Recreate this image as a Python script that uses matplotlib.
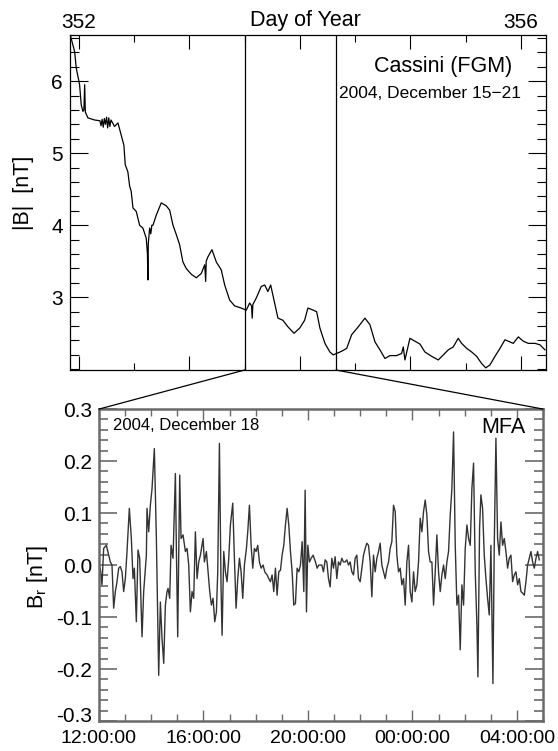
import numpy as np
import matplotlib
matplotlib.use("Agg")
import matplotlib.pyplot as plt
import matplotlib.transforms as mtransforms
from matplotlib.patches import ConnectionPatch
from matplotlib.ticker import MultipleLocator, FixedLocator, FormatStrFormatter

plt.rcParams['font.family'] = ['Liberation Sans', 'DejaVu Sans']
plt.rcParams['mathtext.fontset'] = 'custom'
plt.rcParams['mathtext.rm'] = 'Liberation Sans'
plt.rcParams['axes.unicode_minus'] = False

# |B| overview, Cassini FGM, day of year 2004
doy = [351.925, 351.961, 351.976, 352.006, 352.021, 352.036, 352.045, 352.052, 352.058,
       352.081, 352.142, 352.190, 352.200, 352.210, 352.220, 352.230, 352.240, 352.250,
       352.260, 352.270, 352.280, 352.290, 352.323, 352.353, 352.383, 352.407, 352.419,
       352.443, 352.459, 352.473, 352.489, 352.519, 352.549, 352.579, 352.609, 352.620,
       352.624, 352.628, 352.640, 352.650, 352.660, 352.670, 352.700, 352.745, 352.790,
       352.821, 352.851, 352.881, 352.911, 352.941, 352.971, 353.016, 353.062, 353.107,
       353.138, 353.147, 353.152, 353.167, 353.204, 353.243, 353.288, 353.319, 353.364,
       353.409, 353.469, 353.514, 353.545, 353.562, 353.568, 353.574, 353.605, 353.650,
       353.681, 353.710, 353.735, 353.801, 353.846, 353.891, 353.946, 353.997, 354.042,
       354.072, 354.106, 354.151, 354.181, 354.226, 354.271, 354.301, 354.332, 354.377,
       354.423, 354.468, 354.528, 354.588, 354.633, 354.679, 354.724, 354.769, 354.814,
       354.875, 354.920, 354.935, 354.950, 354.995, 355.041, 355.086, 355.131, 355.192,
       355.252, 355.297, 355.342, 355.387, 355.432, 355.463, 355.509, 355.554, 355.599,
       355.644, 355.681, 355.719, 355.765, 355.810, 355.855, 355.900, 355.930, 355.976,
       356.021, 356.066, 356.127, 356.172, 356.217]
bmag = [6.62, 6.41, 6.18, 5.95, 5.67, 5.58, 5.60, 5.95, 5.57,
        5.49, 5.46, 5.45, 5.38, 5.47, 5.36, 5.48, 5.40, 5.50,
        5.35, 5.49, 5.37, 5.46, 5.37, 5.42, 5.25, 5.11, 4.84,
        4.74, 4.54, 4.47, 4.24, 4.19, 4.00, 3.96, 3.82, 3.60,
        3.24, 3.75, 3.96, 3.88, 4.00, 4.00, 4.14, 4.31, 4.27,
        4.21, 4.00, 3.87, 3.73, 3.49, 3.40, 3.32, 3.27, 3.33,
        3.45, 3.22, 3.50, 3.56, 3.66, 3.49, 3.38, 3.17, 2.96,
        2.88, 2.85, 2.82, 2.92, 2.88, 2.71, 2.90, 2.99, 3.15,
        3.17, 3.08, 3.17, 2.71, 2.68, 2.59, 2.50, 2.57, 2.68,
        2.85, 2.83, 2.80, 2.57, 2.36, 2.24, 2.20, 2.22, 2.25,
        2.29, 2.48, 2.59, 2.71, 2.62, 2.38, 2.27, 2.15, 2.19,
        2.19, 2.22, 2.31, 2.13, 2.43, 2.39, 2.35, 2.24, 2.18,
        2.13, 2.20, 2.27, 2.31, 2.43, 2.36, 2.29, 2.24, 2.18,
        2.08, 2.02, 2.06, 2.18, 2.29, 2.41, 2.38, 2.36, 2.45,
        2.39, 2.36, 2.36, 2.34, 2.27]
window = [353.5, 354.326]

# B_r (MFA), hours after 2004-12-18 12:00
hrs = [0.051, 0.115, 0.179, 0.281, 0.370, 0.434, 0.498, 0.562, 0.626, 0.690, 0.754, 0.817,
       0.881, 0.945, 1.009, 1.073, 1.162, 1.239, 1.303, 1.354, 1.430, 1.494, 1.558, 1.648,
       1.711, 1.814, 1.839, 1.903, 1.967, 2.031, 2.120, 2.197, 2.286, 2.350, 2.414, 2.478,
       2.542, 2.605, 2.644, 2.708, 2.759, 2.835, 2.925, 2.963, 3.014, 3.091, 3.142, 3.218,
       3.308, 3.372, 3.436, 3.499, 3.563, 3.627, 3.691, 3.755, 3.819, 3.883, 3.985, 4.036,
       4.112, 4.176, 4.240, 4.304, 4.368, 4.432, 4.496, 4.547, 4.611, 4.674, 4.713, 4.777,
       4.840, 4.904, 4.968, 5.032, 5.121, 5.185, 5.249, 5.313, 5.377, 5.441, 5.504, 5.568,
       5.645, 5.696, 5.760, 5.824, 5.888, 5.951, 6.015, 6.079, 6.143, 6.207, 6.284, 6.347,
       6.437, 6.501, 6.564, 6.628, 6.692, 6.756, 6.820, 6.884, 6.948, 7.011, 7.075, 7.139,
       7.203, 7.267, 7.331, 7.395, 7.458, 7.522, 7.586, 7.650, 7.714, 7.778, 7.842, 7.893,
       7.944, 7.995, 8.059, 8.123, 8.199, 8.289, 8.352, 8.416,
       8.531, 8.595, 8.659, 8.723, 8.787, 8.851, 8.914, 8.978, 9.042, 9.106, 9.170, 9.234,
       9.298, 9.361, 9.425, 9.489, 9.553, 9.617, 9.681, 9.745, 9.808, 9.872, 9.936, 10.000,
       10.064, 10.128, 10.192, 10.255, 10.319, 10.383, 10.447, 10.511, 10.575, 10.639, 10.702,
       10.766, 10.830, 10.894, 10.958, 11.022, 11.086, 11.149, 11.213, 11.277, 11.341, 11.405,
       11.469, 11.533, 11.596, 11.660, 11.724, 11.788, 11.852, 11.916, 11.980, 12.043, 12.107,
       12.171, 12.235, 12.299, 12.363, 12.427, 12.490, 12.554, 12.618, 12.682, 12.746, 12.810,
       12.874, 12.937, 13.001, 13.065, 13.129, 13.193, 13.257, 13.321, 13.384, 13.448, 13.512,
       13.576, 13.640, 13.704, 13.768, 13.831, 13.895, 13.959, 14.023, 14.087, 14.151, 14.215,
       14.278, 14.342, 14.406, 14.470, 14.508, 14.572, 14.623, 14.687, 14.751, 14.815, 14.879,
       14.943, 15.006, 15.083, 15.134, 15.198, 15.262, 15.326, 15.390, 15.453, 15.517, 15.581,
       15.645, 15.709, 15.773, 15.837, 15.900, 15.964, 16.028, 16.092, 16.156, 16.220, 16.284,
       16.347, 16.411, 16.475, 16.539, 16.603, 16.667, 16.731, 16.794, 16.858]
br = [-0.006, -0.038, 0.032, 0.038, 0.019, 0.006, 0.000, -0.083, -0.051, -0.032, -0.006, -0.003,
      -0.013, -0.051, -0.026, 0.026, 0.109, 0.051, -0.026, -0.006, -0.109, 0.029, 0.013, -0.138,
      -0.051, 0.019, 0.109, 0.064, 0.115, 0.147, 0.224, 0.051, -0.212, -0.071, -0.141, -0.189,
      -0.077, -0.051, -0.045, -0.064, 0.038, 0.013, 0.176, 0.032, -0.138, 0.173, 0.051, 0.058,
      0.026, 0.032, 0.000, -0.090, -0.051, -0.064, 0.064, -0.026, 0.006, 0.019, 0.051, 0.006,
      0.026, -0.013, -0.051, -0.077, -0.064, -0.109, -0.090, -0.013, 0.234, -0.045, -0.135, 0.026,
      -0.013, -0.032, 0.013, 0.077, 0.119, 0.013, -0.083, -0.026, 0.013, -0.013, -0.064, 0.000,
      0.032, 0.064, 0.115, 0.038, -0.006, 0.032, 0.026, 0.038, 0.006, -0.006, 0.000, -0.013,
      -0.019, -0.026, -0.032, -0.019, -0.051, -0.006, -0.058, -0.013, -0.010, 0.019, 0.038, 0.077,
      0.109, 0.077, 0.026, -0.013, -0.077, -0.074, -0.006, -0.013, 0.000, 0.045, -0.051, 0.144,
      -0.090, 0.038, 0.006, 0.013, 0.019, 0.006, -0.006, 0.000,
      0.000, -0.013, 0.010, 0.006, -0.026, -0.042, 0.013, -0.006, 0.016, -0.026, 0.006, 0.000,
      0.013, 0.006, 0.006, 0.010, 0.000, 0.006, -0.013, -0.019, 0.013, 0.019, -0.026, -0.032,
      -0.006, 0.019, 0.032, 0.042, 0.038, 0.006, -0.061, 0.019, -0.013, 0.013, 0.026,
      0.042, 0.000, -0.013, -0.026, -0.006, 0.006, 0.032, 0.045, 0.115, 0.103, 0.019,
      -0.013, -0.006, -0.038, -0.026, -0.077, 0.006, 0.038, -0.051, -0.071, -0.013, -0.051,
      -0.038, 0.006, 0.090, 0.064, 0.103, 0.125, 0.096, 0.026, 0.006, 0.006, -0.077,
      -0.013, 0.058, -0.013, -0.051, -0.019, 0.000, -0.026, 0.006, 0.026, 0.096, 0.147,
      0.256, 0.038, -0.077, -0.058, -0.163, -0.038, -0.077, 0.032, 0.077, 0.051, 0.038,
      0.147, 0.196, -0.013, -0.115, -0.215, 0.071, 0.135, 0.109, 0.019, -0.026, -0.064,
      -0.096, 0.038, -0.228, 0.038, 0.244, 0.051, 0.019, 0.083, 0.038, 0.051, 0.026,
      -0.006, 0.013, 0.019, -0.032, -0.019, -0.013, -0.038, -0.026, -0.051, -0.054, -0.058,
      -0.032, 0.000, 0.013, 0.026, 0.006, -0.006, 0.013, 0.026, 0.010]
time_labels = ['12:00:00', '16:00:00', '20:00:00', '00:00:00', '04:00:00']

fig = plt.figure(figsize=(5.58, 7.51), dpi=100)
ax1 = fig.add_axes([0.1254, 0.5073, 0.8530, 0.4461])
ax2 = fig.add_axes([0.1774, 0.0399, 0.7957, 0.4154])

# ---- top panel
ax1.plot(doy, bmag, color='black', lw=0.9)
for d in window:
    ax1.axvline(d, color='black', lw=0.9)
ax1.set_xlim(351.919, 356.226)
ax1.set_ylim(1.99, 6.64)
ax1.xaxis.set_major_locator(FixedLocator([352, 353, 354, 355, 356]))
ax1.xaxis.set_minor_locator(FixedLocator([352.5, 353.5, 354.5, 355.5]))
ax1.set_xticklabels(['352', '', '', '', '356'])
ax1.yaxis.set_major_locator(FixedLocator([3, 4, 5, 6]))
ax1.yaxis.set_minor_locator(MultipleLocator(0.2))
ax1.tick_params(axis='x', which='both', direction='in', top=True, bottom=True,
                labeltop=True, labelbottom=False, labelsize=15, pad=2.5)
ax1.tick_params(axis='x', which='major', length=10, width=0.8)
ax1.tick_params(axis='x', which='minor', length=5, width=0.8)
ax1.tick_params(axis='y', which='both', direction='in', left=True, right=True,
                labelsize=15, pad=5)
ax1.tick_params(axis='y', which='major', length=13, width=0.8)
ax1.tick_params(axis='y', which='minor', length=6.5, width=0.8)
for s in ax1.spines.values():
    s.set_linewidth(0.9)
ax1.set_ylabel('|B|  [nT]', fontsize=15.5)
ax1.yaxis.set_label_coords(-0.075, 0.528)
ax1.text(0.494, 1.042, 'Day of Year', transform=ax1.transAxes, fontsize=15.5,
         ha='center', va='center')
ax1.text(0.9286, 0.9045, 'Cassini (FGM)', transform=ax1.transAxes, fontsize=15.5,
         ha='right', va='center')
ax1.text(0.9475, 0.824, '2004, December 15\u221221', transform=ax1.transAxes,
         fontsize=12.5, ha='right', va='center')

# ---- bottom panel
grey = '#6a6a6a'
ax2.plot(hrs, br, color='#333333', lw=1.0)
ax2.set_xlim(0, 17)
ax2.set_ylim(-0.3, 0.3)
ax2.xaxis.set_major_locator(FixedLocator([0, 4, 8, 12, 16]))
ax2.xaxis.set_minor_locator(MultipleLocator(1))
ax2.set_xticklabels(time_labels)
ax2.yaxis.set_major_locator(FixedLocator([-0.3, -0.2, -0.1, 0.0, 0.1, 0.2, 0.3]))
ax2.yaxis.set_minor_locator(MultipleLocator(0.02))
ax2.yaxis.set_major_formatter(FormatStrFormatter('%.1f'))
ax2.tick_params(axis='x', which='both', direction='in', top=True, bottom=True,
                labelsize=14, pad=6.5, color=grey)
ax2.tick_params(axis='x', which='major', length=8, width=1.0)
ax2.tick_params(axis='x', which='minor', length=5, width=1.0)
ax2.tick_params(axis='y', which='both', direction='in', left=True, right=True,
                labelsize=15, pad=5, color=grey)
ax2.tick_params(axis='y', which='major', length=13, width=1.2)
ax2.tick_params(axis='y', which='minor', length=6.5, width=1.2)
for s in ax2.spines.values():
    s.set_linewidth(1.8)
    s.set_color(grey)
# lift the bottom y label a little, as in the original, so it clears the time labels
lift = mtransforms.ScaledTranslation(0, 5 / 72, fig.dpi_scale_trans)
low = ax2.yaxis.get_major_ticks()[0].label1
low.set_transform(low.get_transform() + lift)
ax2.set_ylabel('$\\mathregular{B_r}$ [nT]', fontsize=15.5)
ax2.yaxis.set_label_coords(-0.110, 0.46)
ax2.text(0.0315, 0.9487, '2004, December 18', transform=ax2.transAxes, fontsize=12,
         ha='left', va='center')
ax2.text(0.9595, 0.942, 'MFA', transform=ax2.transAxes, fontsize=15.5,
         ha='right', va='center')

# zoom lines from window to lower panel
y0 = ax1.get_ylim()[0]
for d, xa in zip(window, [0, 1]):
    con = ConnectionPatch(xyA=(d, y0), coordsA=ax1.transData,
                          xyB=(xa, 1), coordsB=ax2.transAxes,
                          color='black', lw=0.9)
    fig.add_artist(con)

fig.savefig('out.png', dpi=100)
